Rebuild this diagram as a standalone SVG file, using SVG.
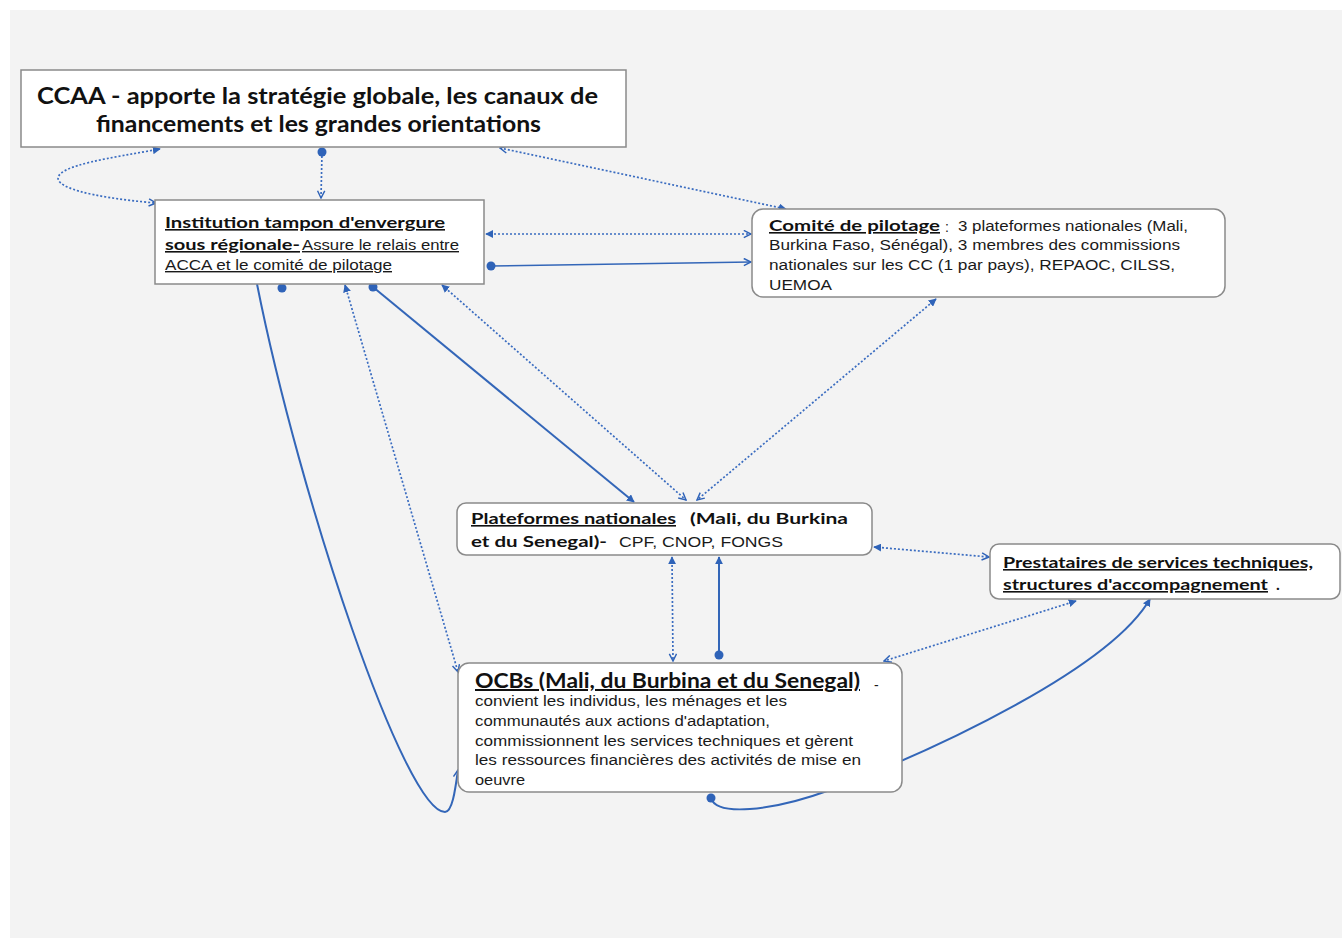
<svg xmlns="http://www.w3.org/2000/svg" width="1342" height="939" viewBox="0 0 1342 939">
<style>
.bg{fill:#f3f3f3}
.box{fill:#ffffff;stroke:#8a8a8a;stroke-width:1.5}
.t{font-family:"Liberation Sans",Arial,sans-serif;font-size:14px;fill:#1a1a1a}
.b{font-family:Lato,"Open Sans",sans-serif;font-weight:bold;fill:#111}
.u{text-decoration:underline}
.dot{fill:none;stroke:#3a6cc0;stroke-width:1.7;stroke-dasharray:2 2}
.sol{fill:none;stroke:#3366b8;stroke-width:2}
.pt{fill:#2f63b8}
</style>
<defs>
<marker id="fa" viewBox="0 0 10 10" refX="9" refY="5" markerWidth="8" markerHeight="8" markerUnits="userSpaceOnUse" orient="auto-start-reverse"><path d="M0,0 L10,5 L0,10 z" fill="#2f63b8"/></marker>
<marker id="oa" viewBox="0 0 10 10" refX="9" refY="5" markerWidth="9" markerHeight="9" markerUnits="userSpaceOnUse" orient="auto-start-reverse"><path d="M1,1 L9,5 L1,9" fill="none" stroke="#2f63b8" stroke-width="1.6"/></marker>
</defs>
<rect x="0" y="0" width="1342" height="939" fill="#ffffff"/>
<rect class="bg" x="10" y="10" width="1332" height="928"/>

<g id="connectors">
<path class="dot" d="M322,152 L321,198" marker-end="url(#oa)"/>
<circle class="pt" cx="322" cy="152" r="4.5"/>
<path class="dot" d="M160,149 C110,158 60,165 58,178 C58,192 120,200 156,203" marker-start="url(#fa)" marker-end="url(#oa)"/>
<path class="dot" d="M500,148 L786,209" marker-start="url(#oa)" marker-end="url(#fa)"/>
<path class="dot" d="M486,234 L751,234" marker-start="url(#fa)" marker-end="url(#oa)"/>
<path class="sol" d="M491,266 L751,262" marker-end="url(#oa)" style="stroke-width:1.6"/>
<circle class="pt" cx="491" cy="266" r="4.5"/>
<path class="sol" d="M257,284 C300,500 405,812 445,812 C452,812 455,792 458,770" marker-end="url(#oa)"/>
<circle class="pt" cx="282" cy="288" r="4.5"/>
<path class="dot" d="M345,285 L458,672" marker-start="url(#fa)" marker-end="url(#oa)"/>
<path class="sol" d="M373,287 L634,502" marker-end="url(#fa)"/>
<circle class="pt" cx="373" cy="287" r="4.5"/>
<path class="dot" d="M442,285 L686,500" marker-start="url(#fa)" marker-end="url(#oa)"/>
<path class="dot" d="M936,299 L697,500" marker-start="url(#fa)" marker-end="url(#oa)"/>
<path class="dot" d="M874,547 L989,557" marker-start="url(#fa)" marker-end="url(#oa)"/>
<path class="dot" d="M672,557 L673,661" marker-start="url(#fa)" marker-end="url(#oa)"/>
<path class="sol" d="M719,655 L719,557" marker-end="url(#fa)"/>
<circle class="pt" cx="719" cy="655" r="4.5"/>
<path class="dot" d="M1076,601 L884,661" marker-start="url(#fa)" marker-end="url(#oa)"/>
<path class="sol" d="M711,798 C716,816 770,812 830,790 C940,748 1110,668 1150,599" marker-end="url(#fa)"/>
<circle class="pt" cx="711" cy="798" r="4.5"/>
</g>

<g id="ccaa">
<rect class="box" x="21" y="70" width="605" height="77"/>
<text class="b" font-size="22" x="37" y="104" textLength="561" lengthAdjust="spacingAndGlyphs">CCAA - apporte la stratégie globale, les canaux de</text>
<text class="b" font-size="22" x="96" y="132" textLength="445" lengthAdjust="spacingAndGlyphs">financements et les grandes orientations</text>
</g>

<g id="institution">
<rect class="box" x="155" y="200" width="329" height="84"/>
<text class="b u" font-size="16" x="165" y="228" textLength="280" lengthAdjust="spacingAndGlyphs">Institution tampon d'envergure</text>
<text class="b u" font-size="16" x="165" y="250" textLength="135" lengthAdjust="spacingAndGlyphs">sous régionale-</text>
<text class="t u" x="302" y="250" textLength="157" lengthAdjust="spacingAndGlyphs">Assure le relais entre</text>
<text class="t u" x="165" y="270" textLength="227" lengthAdjust="spacingAndGlyphs">ACCA et le comité de pilotage</text>
</g>

<g id="comite">
<rect class="box" x="752" y="209" width="473" height="88" rx="11"/>
<text class="b u" font-size="16" x="769" y="231" textLength="171" lengthAdjust="spacingAndGlyphs">Comité de pilotage</text>
<text class="t" x="945" y="232">:</text>
<text class="t" x="958" y="231" textLength="230" lengthAdjust="spacingAndGlyphs">3 plateformes nationales (Mali,</text>
<text class="t" x="769" y="250" textLength="411" lengthAdjust="spacingAndGlyphs">Burkina Faso, Sénégal), 3 membres des commissions</text>
<text class="t" x="769" y="270" textLength="406" lengthAdjust="spacingAndGlyphs">nationales sur les CC (1 par pays), REPAOC, CILSS,</text>
<text class="t" x="769" y="290" textLength="63" lengthAdjust="spacingAndGlyphs">UEMOA</text>
</g>

<g id="plateformes">
<rect class="box" x="457" y="503" width="415" height="52" rx="9"/>
<text class="b u" font-size="16" x="471" y="524" textLength="205" lengthAdjust="spacingAndGlyphs">Plateformes nationales</text>
<text class="b" font-size="16" x="690" y="524" textLength="158" lengthAdjust="spacingAndGlyphs">(Mali, du Burkina</text>
<text class="b" font-size="16" x="471" y="547" textLength="136" lengthAdjust="spacingAndGlyphs">et du Senegal)-</text>
<text class="t" x="619" y="547" textLength="164" lengthAdjust="spacingAndGlyphs">CPF, CNOP, FONGS</text>
</g>

<g id="prestataires">
<rect class="box" x="990" y="544" width="350" height="55" rx="9"/>
<text class="b u" font-size="16" x="1003" y="568" textLength="310" lengthAdjust="spacingAndGlyphs">Prestataires de services techniques,</text>
<text class="b u" font-size="16" x="1003" y="590" textLength="265" lengthAdjust="spacingAndGlyphs">structures d'accompagnement</text>
<text class="b" font-size="16" x="1276" y="590">.</text>
</g>

<g id="ocbs">
<rect class="box" x="458" y="663" width="444" height="129" rx="11"/>
<text class="b u" font-size="20" x="475" y="688" textLength="385" lengthAdjust="spacingAndGlyphs">OCBs (Mali, du Burbina et du Senegal)</text>
<text class="t" x="874" y="690">-</text>
<text class="t" x="475" y="706" textLength="312" lengthAdjust="spacingAndGlyphs">convient les individus, les ménages et les</text>
<text class="t" x="475" y="726" textLength="295" lengthAdjust="spacingAndGlyphs">communautés aux actions d'adaptation,</text>
<text class="t" x="475" y="746" textLength="378" lengthAdjust="spacingAndGlyphs">commissionnent les services techniques et gèrent</text>
<text class="t" x="475" y="765" textLength="386" lengthAdjust="spacingAndGlyphs">les ressources financières des activités de mise en</text>
<text class="t" x="475" y="785" textLength="50" lengthAdjust="spacingAndGlyphs">oeuvre</text>
</g>
</svg>
